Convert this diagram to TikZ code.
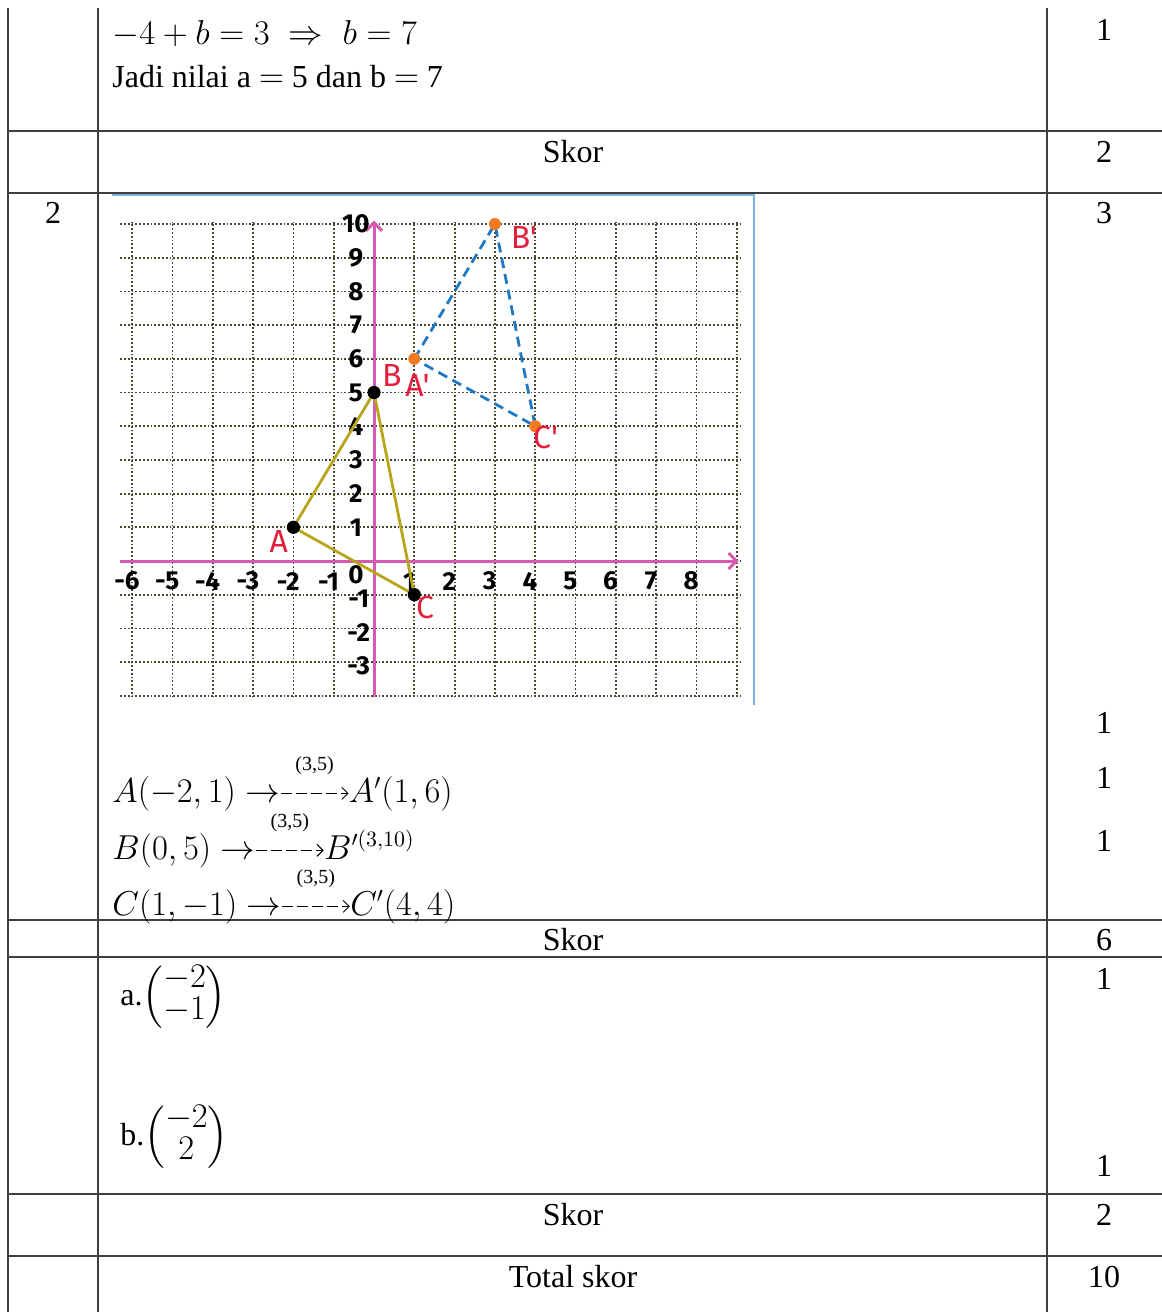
\documentclass[tikz,border=0pt]{standalone}
\usepackage{amsmath}
\usepackage{fontspec}
\setmainfont{Liberation Serif}
\newfontfamily\tangan{Fira Sans}
\usetikzlibrary{arrows.meta,positioning}

\definecolor{sumbupink}{HTML}{D65BB0}
\definecolor{zaitun}{HTML}{B9A51C}
\definecolor{birugaris}{HTML}{1F78C1}
\definecolor{oranye}{HTML}{F27A1F}
\definecolor{merah}{HTML}{E21F3C}
\definecolor{titikgrid}{HTML}{4A4530}
\definecolor{tepigambar}{HTML}{7FB2DE}

\begin{document}
\begin{tikzpicture}
  [x=0.5pt, y=-0.5pt, font=\fontsize{16}{19}\selectfont,
   garis/.style={draw=black!75, line width=0.7pt},
   skor/.style={inner sep=0pt},
   teks/.style={anchor=base west, inner sep=0pt},
   kisi/.style={draw=titikgrid, densely dotted, line width=0.9pt},
   sumbu/.style={draw=sumbupink, line width=1.5pt, -{Straight Barb[length=4pt, width=8pt]}},
   segitiga/.style={draw=zaitun, line width=1.4pt, line join=round},
   bayangan/.style={draw=birugaris, line width=1.4pt, dash pattern=on 5pt off 3pt},
   angka/.style={font=\fontsize{13}{13}\tangan\bfseries, inner sep=0pt},
   nama/.style={text=merah, font=\fontsize{16}{16}\tangan, inner sep=0pt},
   panah/.style={draw=black, line width=0.5pt, dash pattern=on 5.5pt off 2pt,
                 -{Straight Barb[length=3pt, width=6pt]}},
   kecil/.style={font=\fontsize{10}{11}\selectfont, inner sep=0pt},
   vektor/.style={anchor=west, inner sep=0pt,
                  execute at begin node={\renewcommand{\arraystretch}{0.85}}}]

  \useasboundingbox (0,0) rectangle (1162,1312);

  % Garis tabel
  \foreach \x in {8,98,1047}
    \draw[garis] (\x,8) -- (\x,1312);
  \foreach \y in {131,193,920,957,1194,1256}
    \draw[garis] (8,\y) -- (1162,\y);

  % Baris 1
  \node[teks] (l1) at (112,44) {$-4+b=3\;\Rightarrow\;b=7$};
  \node[teks] (l2) at (112,87) {Jadi nilai a $=$ 5 dan b $=$ 7};

  % Skor
  \node[skor] (s1) at (1104,30) {1};
  \node[skor] (k1) at (573,152) {Skor};
  \node[skor] (s2) at (1104,152) {2};
  \node[skor] (no2) at (53,213) {2};
  \node[skor] (s3) at (1104,213) {3};
  \node[skor] (s4) at (1104,723) {1};
  \node[skor] (s5) at (1104,778) {1};
  \node[skor] (s6) at (1104,841) {1};
  \node[skor] (k2) at (573,940) {Skor};
  \node[skor] (s7) at (1104,940) {6};
  \node[skor] (s8) at (1104,979) {1};
  \node[skor] (s9) at (1104,1166) {1};
  \node[skor] (k3) at (573,1215) {Skor};
  \node[skor] (s10) at (1104,1215) {2};
  \node[skor] (k4) at (573,1277) {Total skor};
  \node[skor] (s11) at (1104,1277) {10};

  % Tepi gambar
  \draw[tepigambar, line width=0.8pt] (112,195) -- (754,195) -- (754,705);

  % Bidang koordinat
  \begin{scope}[shift={(187pt,-280.5pt)}, x=20.15pt, y=16.85pt]
    \foreach \j in {-4,...,10}
      \draw[kisi] (-6.3,\j) -- (9.1,\j);
    \foreach \i in {-6,...,9}
      \draw[kisi] (\i,-4.05) -- (\i,10.05);

    \draw[sumbu] (-6.3,0) -- (9.05,0);
    \draw[sumbu] (0,-4.05) -- (0,10.1);

    % angka sumbu
    \foreach \k in {-6,...,-1,1,2,...,8}
      \node[angka] (tx\k) at (\k-0.13,-0.6) {\k};
    \node[angka] (t0) at (-0.45,-0.42) {0};
    \foreach \k in {1,...,10}
      \node[angka] (ty\k) at (-0.45,\k) {\k};
    \foreach \k in {-1,-2,-3}
      \node[angka] (ty\k) at (-0.38,\k-0.12) {\k};

    % titik sudut
    \coordinate (A) at (-2,1);
    \coordinate (B) at (0,5);
    \coordinate (C) at (1,-1);
    \coordinate (Ab) at (1,6);
    \coordinate (Bb) at (3,10);
    \coordinate (Cb) at (4,4);

    \draw[segitiga] (A) -- (B) -- (C) -- cycle;
    \draw[bayangan] (Ab) -- (Bb) -- (Cb) -- cycle;

    \foreach \p in {A,B,C}
      \fill[black] (\p) circle (3.3pt);
    \foreach \p in {Ab,Bb,Cb}
      \fill[oranye] (\p) circle (3pt);

    \node[nama] (nA) at (-2.36,0.59) {A};
    \node[nama] (nB) at (0.44,5.52) {B};
    \node[nama] (nC) at (1.27,-1.37) {C};
    \node[nama] (nAb) at (1.08,5.2) {A'};
    \node[nama] (nBb) at (3.72,9.6) {B'};
    \node[nama] (nCb) at (4.26,3.66) {C'};
  \end{scope}

  % Translasi
  \node[teks] (a1) at (112,802) {$A(-2,1)\rightarrow$};
  \node[teks, base right=34pt of a1] (a2) {$A'(1,6)$};
  \draw[panah] (a1.east) -- (a1.east -| a2.west)
    node[kecil, midway, above=9pt] (ta) {(3,5)};

  \node[teks] (b1) at (112,859) {$B(0,5)\rightarrow$};
  \node[teks, base right=34pt of b1] (b2) {$B^{\prime(3,10)}$};
  \draw[panah] (b1.east) -- (b1.east -| b2.west)
    node[kecil, midway, above=9pt] (tb) {(3,5)};

  \node[teks] (c1) at (112,915) {$C(1,-1)\rightarrow$};
  \node[teks, base right=34pt of c1] (c2) {$C'(4,4)$};
  \draw[panah] (c1.east) -- (c1.east -| c2.west)
    node[kecil, midway, above=9pt] (tc) {(3,5)};

  % Vektor
  \node[vektor] (va) at (120,997)
    {a.$\begin{pmatrix}-2\\-1\end{pmatrix}$};
  \node[vektor] (vb) at (120,1137)
    {b.$\begin{pmatrix}-2\\2\end{pmatrix}$};
\end{tikzpicture}
\end{document}
